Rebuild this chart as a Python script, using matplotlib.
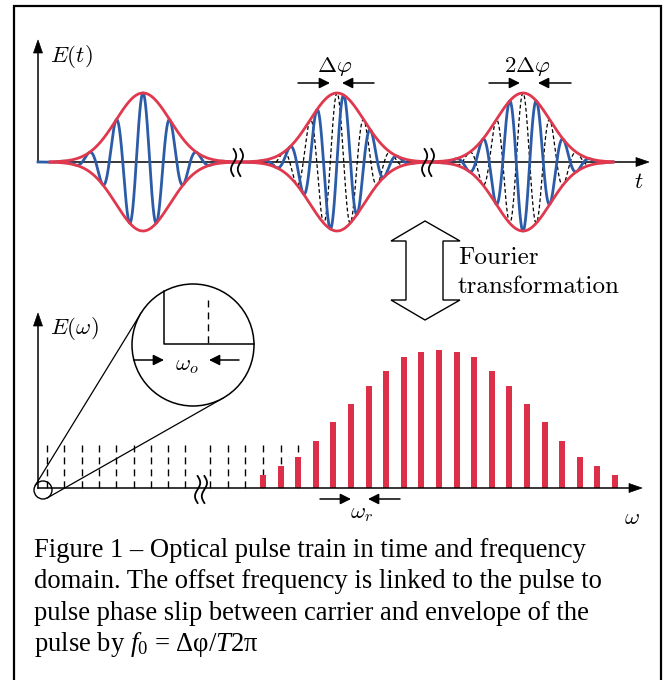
import numpy as np
import matplotlib
matplotlib.use("Agg")
import matplotlib.pyplot as plt
from matplotlib.patches import Circle, Polygon

plt.rcParams['mathtext.fontset'] = 'custom'
plt.rcParams['mathtext.rm'] = 'Liberation Serif'
plt.rcParams['mathtext.it'] = 'Liberation Serif:italic'
plt.rcParams['mathtext.bf'] = 'Liberation Serif:bold'

# ---------------- data ----------------
pulse_centers = [143, 337, 523]          # pulse positions along t
pulse_phase_steps = [0, 1, 2]            # carrier-envelope phase in units of delta-phi
delta_phi = np.pi / 2
pulse_amplitude = 69
pulse_width = 27
carrier_period = 27

comb_heights = [13, 22, 31, 47, 66, 84, 102, 117, 131, 136, 138,
                136, 131, 117, 102, 84, 66, 47, 31, 22, 13]
comb_first = 263
comb_spacing = 17.6
dashed_left = [47 + 17.3 * k for k in range(9)]
dashed_right = [comb_first - comb_spacing * k for k in range(3, -3, -1)]
dashed_height = 43

caption_lines = [
    "Figure 1 \u2013 Optical pulse train in time and frequency",
    "domain. The offset frequency is linked to the pulse to",
    "pulse phase slip between carrier and envelope of the",
    "pulse by $f_0$ = \u0394\u03c6/$T$2\u03c0",
]

BLUE = '#2c5ca8'
RED = '#e0384d'
BAR = '#dc2f48'

fig = plt.figure(figsize=(6.72, 6.80), dpi=100)
ax = fig.add_axes([0, 0, 1, 1])
ax.set_xlim(0, 672)
ax.set_ylim(680, 0)
ax.axis('off')

# outer frame
ax.plot([14, 14, 661, 661], [690, 6, 6, 690], color='k', lw=1.6, solid_joinstyle='miter')


def arrow_head(tip, direction, length=13, half=4.5, z=6):
    d = np.array(direction, float)
    d /= np.linalg.norm(d)
    n = np.array([-d[1], d[0]])
    t = np.array(tip, float)
    b = t - d * length
    ax.add_patch(Polygon([t, b + n * half, b - n * half], closed=True,
                         fc='k', ec='k', lw=0.5, zorder=z))


def line_arrow(tail, tip):
    ax.annotate('', xy=tip, xytext=tail,
                arrowprops=dict(arrowstyle='-|>', lw=1.1, color='k',
                                mutation_scale=16, shrinkA=0, shrinkB=0),
                zorder=6)


def break_mark(xc, y_top, h):
    yy = np.linspace(y_top, y_top + h, 60)
    for dx in (-3.4, 3.4):
        xx = xc + dx + 2.6 * np.sin(2 * np.pi * (yy - y_top) / h)
        ax.plot(xx, yy, color='k', lw=1.3, zorder=7)


# ---------------- time domain ----------------
y0 = 162
ax.plot([38, 640], [y0, y0], color='k', lw=1.1, zorder=2)
arrow_head((649, y0), (1, 0))
ax.plot([38, 38], [y0, 50], color='k', lw=1.1, zorder=2)
arrow_head((38, 40), (0, -1))

x = np.linspace(38, 613, 4000)
env_total = np.zeros_like(x)
blue = np.zeros_like(x)
for c, k in zip(pulse_centers, pulse_phase_steps):
    env = pulse_amplitude * np.exp(-(x - c) ** 2 / (2 * pulse_width ** 2))
    env_total += env
    blue += env * np.cos(2 * np.pi * (x - c) / carrier_period - k * delta_phi)
    if k > 0:
        m = np.abs(x - c) < 78
        ref = env * np.cos(2 * np.pi * (x - c) / carrier_period)
        ax.plot(x[m], y0 - ref[m], color='k', lw=0.9, dashes=(3, 2), zorder=3)

ax.plot(x, y0 - blue, color=BLUE, lw=2.0, zorder=4)
m = x >= 50
ax.plot(x[m], y0 - env_total[m], color=RED, lw=2.0, zorder=5)
ax.plot(x[m], y0 + env_total[m], color=RED, lw=2.0, zorder=5)

break_mark(237, 149, 27)
break_mark(428, 149, 27)

ax.text(71, 57, r'$E(t)$', fontsize=16.5, math_fontfamily='cm', ha='center', va='center')
ax.text(639, 181, r'$t$', fontsize=16.5, math_fontfamily='cm', ha='center', va='center')

ax.text(335, 66, r'$\Delta\varphi$', fontsize=16.5, math_fontfamily='cm', ha='center', va='center')
line_arrow((298, 83), (330, 83))
line_arrow((374, 83), (342, 83))
ax.text(527, 66, r'$2\Delta\varphi$', fontsize=16.5, math_fontfamily='cm', ha='center', va='center')
line_arrow((489, 83), (520, 83))
line_arrow((571, 83), (538, 83))

# Fourier double arrow
fa = [(425, 221), (460, 241), (443, 241), (443, 300), (460, 300), (425, 320),
      (391, 300), (406, 300), (406, 241), (391, 241)]
ax.add_patch(Polygon(fa, closed=True, fc='white', ec='k', lw=1.0, zorder=3))
ax.text(458, 258, 'Fourier', family='cmr10', fontsize=18, ha='left', va='center')
ax.text(458, 287, 'transformation', family='cmr10', fontsize=18, ha='left', va='center')

# ---------------- frequency domain ----------------
y1 = 488
ax.vlines(dashed_left + dashed_right, y1 - dashed_height, y1, colors='k',
          lw=1.0, linestyles=(0, (5, 3.6)), zorder=2)
comb_x = [comb_first + comb_spacing * i for i in range(len(comb_heights))]
ax.bar(comb_x, [-h for h in comb_heights], bottom=y1, width=6.0, color=BAR, zorder=3)

ax.plot([38, 632], [y1, y1], color='k', lw=1.1, zorder=4)
arrow_head((642, y1), (1, 0))
ax.plot([38, 38], [y1, 325], color='k', lw=1.1, zorder=4)
arrow_head((38, 313), (0, -1))
break_mark(201, 476, 27)

ax.text(74, 329, r'$E(\omega)$', fontsize=16.5, math_fontfamily='cm', ha='center', va='center')
ax.text(632, 518, r'$\omega$', fontsize=16.5, math_fontfamily='cm', ha='center', va='center')

line_arrow((320, 499), (351, 499))
line_arrow((400, 499), (368, 499))
ax.text(362, 512, r'$\omega_r$', fontsize=16.5, math_fontfamily='cm', ha='center', va='center')

# magnifier
c_small = np.array([43.0, 490.0]); r_small = 9.0
c_big = np.array([193.0, 345.0]); r_big = 61.0
ax.add_patch(Circle(c_small, r_small, fc='none', ec='k', lw=1.0, zorder=6))
ax.add_patch(Circle(c_big, r_big, fc='white', ec='k', lw=1.1, zorder=6))
d = c_big - c_small
L = np.linalg.norm(d)
ang = np.arccos(-(r_big - r_small) / L)
base = np.arctan2(d[1], d[0])
for s in (1, -1):
    a = base + s * ang
    n = np.array([np.cos(a), np.sin(a)])
    p1 = c_small + r_small * n
    p2 = c_big + r_big * n
    ax.plot([p1[0], p2[0]], [p1[1], p2[1]], color='k', lw=0.9, zorder=5)

xv = 164
ytop = c_big[1] - np.sqrt(r_big ** 2 - (xv - c_big[0]) ** 2)
xr = c_big[0] + np.sqrt(r_big ** 2 - (344 - c_big[1]) ** 2)
ax.plot([xv, xv, xr], [ytop, 344, 344], color='k', lw=1.1, zorder=7)
ax.plot([208, 208], [300, 344], color='k', lw=1.0, dashes=(5, 3.6), zorder=7)
xl = c_big[0] - np.sqrt(r_big ** 2 - (360 - c_big[1]) ** 2)
line_arrow((xl, 360), (164, 360))
line_arrow((239, 360), (209, 360))
ax.text(187, 364, r'$\omega_o$', fontsize=16.5, math_fontfamily='cm', ha='center', va='center', zorder=8)

# ---------------- caption ----------------
for i, line in enumerate(caption_lines):
    ax.text(34, 557 + 31.3 * i, line, family='Liberation Serif', fontsize=19.2,
            math_fontfamily='custom', ha='left', va='baseline')

fig.savefig('out.png', dpi=100)
